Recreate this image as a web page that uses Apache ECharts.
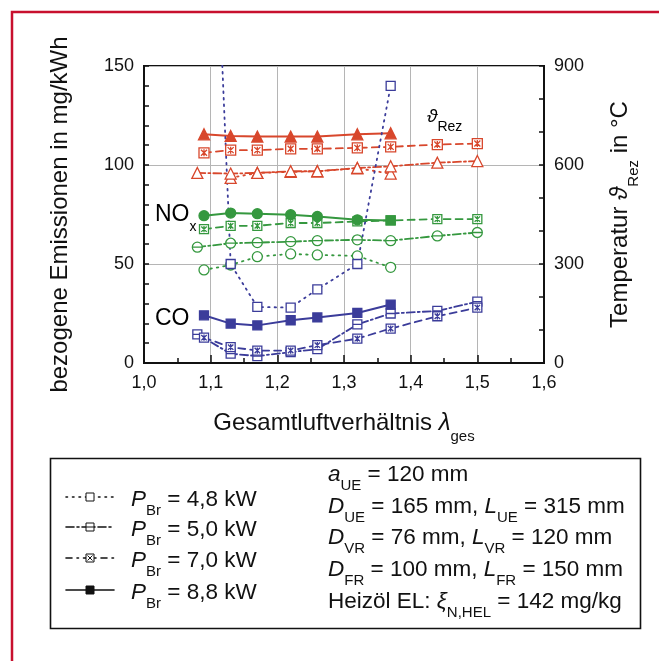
<!DOCTYPE html>
<html>
<head>
<meta charset="utf-8">
<script src="https://cdn.jsdelivr.net/npm/echarts@6/dist/echarts.min.js"></script>
<style>html,body{margin:0;padding:0;background:#fff;}#c{width:659px;height:661px;}</style>
</head>
<body>
<div id="c"></div>
<script>
// ---- data ----
const xTicks = [1.0, 1.1, 1.2, 1.3, 1.4, 1.5, 1.6];
const lambda48 = [1.09, 1.13, 1.17, 1.22, 1.26, 1.32, 1.37];
const co48   = [370, 50.0, 28.3, 28.0, 37.2, 50.0, 140];
const nox48  = [47.0, 49.5, 53.7, 55.1, 54.6, 54.1, 48.3];
const temp48 = [null, 561, 576, 579, 581, 590, 574];

const lambda50 = [1.08, 1.13, 1.17, 1.22, 1.26, 1.32, 1.37, 1.44, 1.50];
const co50   = [14.5, 4.7, 3.5, 5.5, 7.0, 19.5, 25.0, 26.3, 31.0];
const nox50  = [58.5, 60.5, 60.8, 61.3, 61.8, 62.2, 61.8, 64.2, 65.9];
const temp50 = [576, 574, 576, 581, 581, 591, 596, 607, 612];

const lambda70 = [1.09, 1.13, 1.17, 1.22, 1.26, 1.32, 1.37, 1.44, 1.50];
const co70   = [12.8, 8.0, 6.3, 6.3, 9.0, 12.3, 17.4, 23.6, 28.0];
const nox70  = [67.6, 69.3, 69.3, 70.7, 70.7, 71.5, 72.0, 72.7, 72.7];
const temp70 = [637, 645, 645, 649, 649, 652, 655, 662, 665];

const lambda88 = [1.09, 1.13, 1.17, 1.22, 1.26, 1.32, 1.37];
const co88   = [24.1, 19.9, 19.0, 21.6, 23.0, 25.3, 29.5];
const nox88  = [74.4, 75.7, 75.4, 74.9, 74.0, 72.3, 72.0];
const temp88 = [693, 688, 686, 686, 686, 693, 696];

const legendLabels = ['4,8', '5,0', '7,0', '8,8'];

// ---- styles ----
const FONT = "'Liberation Sans', Arial, sans-serif";
const RED = '#d8472c', GREEN = '#35983f', BLUE = '#3b3c9a';
const SQ_H = 'path://M0,0L10,0L10,10L0,10Z M0,5L10,5';
const SQ_X = 'path://M0,0L10,0L10,10L0,10Z M2,2L8,8 M8,2L2,8 M5,1.5L5,8.5';
const CI_H = 'path://M10,5A5,5,0,1,1,0,5A5,5,0,1,1,10,5Z M0,5L10,5';
const DOT = [1.5, 5], DASHDOT = [8, 3, 2, 3], DASH = [7, 5];

function pairs(xs, ys) { return xs.map((x, i) => [x, ys[i]]); }
function mk(name, xs, ys, yAxisIndex, color, dash, symbol, fill, size, width) {
  return {
    name, type: 'line', xAxisIndex: 0, yAxisIndex,
    data: pairs(xs, ys), symbol, symbolSize: size,
    clip: true,
    lineStyle: { color, width: width || 1.8, type: dash, cap: 'round' },
    itemStyle: { color: fill, borderColor: color, borderWidth: 1.3 },
    emphasis: { disabled: true }, animation: false, z: 3
  };
}

const series = [
  mk('T 4,8', lambda48, temp48, 1, RED, DOT, 'triangle', '#fff', 11),
  mk('T 5,0', lambda50, temp50, 1, RED, DASHDOT, 'triangle', '#fff', 11),
  mk('T 7,0', lambda70, temp70, 1, RED, DASH, SQ_X, '#fff', 10),
  mk('T 8,8', lambda88, temp88, 1, RED, 'solid', 'triangle', RED, 11, 2),
  mk('NOx 4,8', lambda48, nox48, 0, GREEN, DOT, 'circle', '#fff', 10),
  mk('NOx 5,0', lambda50, nox50, 0, GREEN, DASHDOT, CI_H, '#fff', 10),
  mk('NOx 7,0', lambda70, nox70, 0, GREEN, DASH, SQ_X, '#fff', 9),
  mk('NOx 8,8', lambda88, nox88, 0, GREEN, 'solid', 'circle', GREEN, 10, 2),
  mk('CO 4,8', lambda48, co48, 0, BLUE, DOT, 'rect', '#fff', 9),
  mk('CO 5,0', lambda50, co50, 0, BLUE, DASHDOT, SQ_H, '#fff', 9),
  mk('CO 7,0', lambda70, co70, 0, BLUE, DASH, SQ_X, '#fff', 9),
  mk('CO 8,8', lambda88, co88, 0, BLUE, 'solid', 'rect', BLUE, 9, 2)
];
series[7].data[series[7].data.length - 1] = { value: series[7].data[series[7].data.length - 1], symbol: 'rect', symbolSize: 9 };

const LFS = 22.5;
const subRich = {
  i: { fontStyle: 'italic', fontSize: LFS, fontFamily: FONT, color: '#111', lineHeight: 26, verticalAlign: 'middle' },
  s: { fontSize: 15, fontFamily: FONT, color: '#111', verticalAlign: 'bottom', lineHeight: 14, padding: [0, 0, -6, 0] },
  n: { fontSize: LFS, fontFamily: FONT, color: '#111', lineHeight: 26, verticalAlign: 'middle' }
};

// ---- frame, legend, annotations ----
const graphic = [];
graphic.push({ type: 'polyline', shape: { points: [[12, 661], [12, 12], [659, 12]] }, style: { stroke: '#c8102e', lineWidth: 2.5, fill: null }, silent: true });
graphic.push({ type: 'rect', shape: { x: 50.5, y: 458.5, width: 590, height: 170 }, style: { stroke: '#111', lineWidth: 1.6, fill: null }, silent: true });

const rowY = [497, 527, 558, 590];
const legDash = [[1.5, 5], [8, 3, 2, 3], [6, 5, 1.5, 5], null];
rowY.forEach((y, i) => {
  graphic.push({ type: 'line', shape: { x1: 66, y1: y, x2: 114, y2: y }, style: { stroke: '#111', lineWidth: 1.6, lineDash: legDash[i], lineCap: 'round' }, silent: true });
  graphic.push({ type: 'rect', shape: { x: 86, y: y - 4, width: 8, height: 8 }, style: { stroke: '#111', lineWidth: 1, fill: i === 3 ? '#111' : '#fff' }, silent: true });
  if (i === 1) graphic.push({ type: 'line', shape: { x1: 86, y1: y, x2: 94, y2: y }, style: { stroke: '#111', lineWidth: 1 }, silent: true });
  if (i === 2) {
    graphic.push({ type: 'line', shape: { x1: 87.5, y1: y - 2.5, x2: 92.5, y2: y + 2.5 }, style: { stroke: '#111', lineWidth: 1 }, silent: true });
    graphic.push({ type: 'line', shape: { x1: 92.5, y1: y - 2.5, x2: 87.5, y2: y + 2.5 }, style: { stroke: '#111', lineWidth: 1 }, silent: true });
  }
  graphic.push({ type: 'text', left: 131, top: y - 9, style: { text: '{i|P}{s|Br}{n| = ' + legendLabels[i] + ' kW}', rich: subRich, fill: '#111' }, silent: true });
});

const paramTexts = [
  '{i|a}{s|UE}{n| = 120 mm}',
  '{i|D}{s|UE}{n| = 165 mm, }{i|L}{s|UE}{n| = 315 mm}',
  '{i|D}{s|VR}{n| = 76 mm, }{i|L}{s|VR}{n| = 120 mm}',
  '{i|D}{s|FR}{n| = 100 mm, }{i|L}{s|FR}{n| = 150 mm}',
  '{n|Heizöl EL: }{i|ξ}{s|N,HEL}{n| = 142 mg/kg}'
];
const paramBase = [480, 512, 543, 575, 607];
paramTexts.forEach((t, i) => {
  graphic.push({ type: 'text', left: 328, top: paramBase[i] - 17, style: { text: t, rich: subRich, fill: '#111' }, silent: true });
});

graphic.push({ type: 'text', left: 155, top: 203, style: { text: '{b|NO}{s|x}', rich: { b: { fontSize: 23, fontFamily: FONT, color: GREEN }, s: { fontSize: 14, fontFamily: FONT, color: GREEN, verticalAlign: 'bottom', padding: [0, 0, -8, 0] } } }, silent: true });
graphic.push({ type: 'text', left: 155, top: 307, style: { text: '{b|CO}', rich: { b: { fontSize: 23, fontFamily: FONT, color: BLUE } } }, silent: true });
graphic.push({ type: 'text', left: 427, top: 107, style: { text: '{i|ϑ}{s|Rez}', rich: { i: { fontSize: 19, fontStyle: 'italic', fontFamily: FONT, color: RED }, s: { fontSize: 14, fontFamily: FONT, color: RED, verticalAlign: 'bottom', padding: [0, 0, -8, 0] } } }, silent: true });

const axisLineStyle = { color: '#111', width: 2 };
const tickStyle = { color: '#111', width: 1.5 };
const labelStyle = { color: '#111', fontSize: 18, fontFamily: FONT };
const NAME_FS = 24;
const nameRich = {
  i: { fontSize: NAME_FS, fontStyle: 'italic', fontFamily: FONT, color: '#111' },
  s: { fontSize: 15, fontFamily: FONT, color: '#111', verticalAlign: 'bottom', padding: [0, 0, -9, 0] }
};

const option = {
  backgroundColor: '#fff',
  animation: false,
  grid: { left: 144, right: 115, top: 66, bottom: 298, show: true, borderColor: '#111', borderWidth: 2, backgroundColor: 'transparent' },
  xAxis: [{
    type: 'value', min: xTicks[0], max: xTicks[xTicks.length - 1], interval: 0.1,
    axisLine: { show: true, lineStyle: axisLineStyle },
    axisTick: { show: true, inside: true, length: 8, lineStyle: tickStyle },
    minorTick: { show: true, splitNumber: 2, length: 5, lineStyle: tickStyle },
    splitLine: { show: true, lineStyle: { color: '#b5b5b5', width: 1 } },
    axisLabel: { ...labelStyle, margin: 11, formatter: v => v.toFixed(1).replace('.', ',') },
    name: 'Gesamtluftverhältnis {i|λ}{s|ges}', nameLocation: 'middle', nameGap: 48,
    nameTextStyle: { fontSize: NAME_FS, fontFamily: FONT, color: '#111', rich: nameRich }
  }],
  yAxis: [{
    type: 'value', min: 0, max: 150, interval: 50, position: 'left',
    axisLine: { show: true, lineStyle: axisLineStyle },
    axisTick: { show: true, inside: true, length: 5, lineStyle: tickStyle },
    minorTick: { show: true, splitNumber: 5, length: 5, lineStyle: tickStyle },
    splitLine: { show: true, lineStyle: { color: '#b5b5b5', width: 1 } },
    axisLabel: { ...labelStyle, margin: 10 },
    name: 'bezogene Emissionen in mg/kWh', nameLocation: 'middle', nameGap: 72, nameRotate: 90,
    nameTextStyle: { fontSize: NAME_FS, fontFamily: FONT, color: '#111' }
  }, {
    type: 'value', min: 0, max: 900, interval: 300, position: 'right',
    axisLine: { show: true, lineStyle: axisLineStyle },
    axisTick: { show: true, inside: true, length: 5, lineStyle: tickStyle },
    minorTick: { show: true, splitNumber: 3, length: 5, lineStyle: tickStyle },
    splitLine: { show: false },
    axisLabel: { ...labelStyle, margin: 10 },
    name: 'Temperatur {i|ϑ}{s|Rez} in °C', nameLocation: 'middle', nameGap: 64, nameRotate: 90,
    nameTextStyle: { fontSize: NAME_FS, fontFamily: FONT, color: '#111', rich: nameRich }
  }],
  series,
  graphic
};

const chart = echarts.init(document.getElementById('c'), null, { renderer: 'canvas' });
chart.setOption(option);
</script>
</body>
</html>
